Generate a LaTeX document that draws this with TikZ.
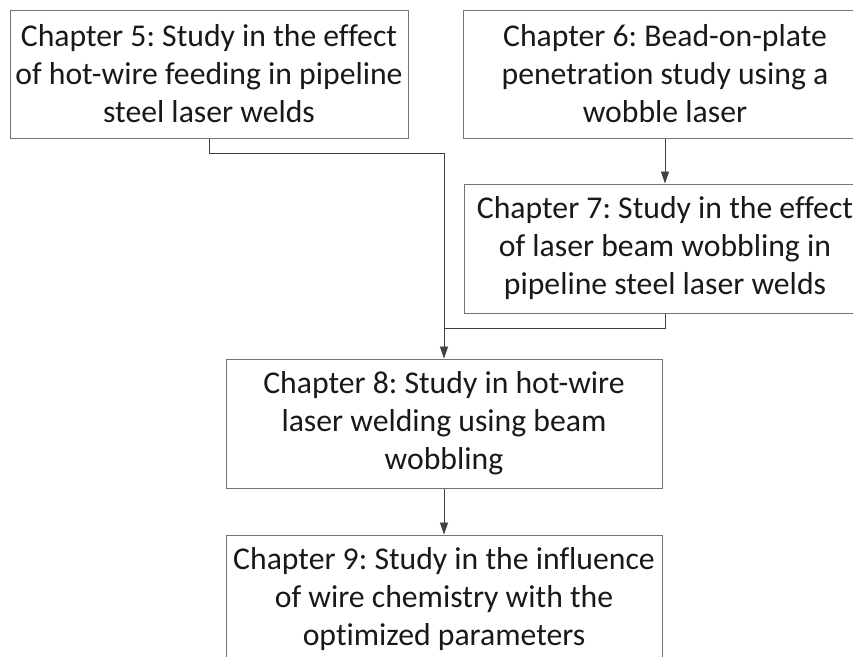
\documentclass[tikz,border=0pt]{standalone}
\usepackage{fontspec}
\setmainfont[Ligatures=NoCommon]{Carlito}
\usetikzlibrary{arrows.meta}
\frenchspacing
\begin{document}
\begin{tikzpicture}[x=1pt,y=-1pt,
  chbox/.style={draw=black!55,line width=1pt,rectangle,inner sep=0pt,
    align=center,font=\fontsize{31.7}{38}\selectfont,text=black!90},
  conn/.style={draw=black!75,line width=0.9pt},
  arr/.style={conn,-{Triangle[length=12pt,width=8pt]}}]
\useasboundingbox (0,0) rectangle (853,656);
\clip (0,0) rectangle (853,656);
\fill[white] (0,0) rectangle (853,656);
\node[chbox,minimum width=398pt,minimum height=128pt] (b1) at (209,74)
  {Chapter 5: Study in the effect\\of hot-wire feeding in pipeline\\steel laser welds};
\node[chbox,minimum width=404pt,minimum height=128pt] (b2) at (665,74)
  {Chapter 6: Bead-on-plate\\penetration study using a\\wobble laser};
\node[chbox,minimum width=402pt,minimum height=129pt] (b3) at (665,248.5)
  {Chapter 7: Study in the effect\\of laser beam wobbling in\\pipeline steel laser welds};
\node[chbox,minimum width=436pt,minimum height=129pt] (b4) at (444,423.5)
  {Chapter 8: Study in hot-wire\\laser welding using beam\\wobbling};
\node[chbox,minimum width=436pt,minimum height=129pt] (b5) at (444,599.5)
  {Chapter 9: Study in the influence\\of wire chemistry with the\\optimized parameters};
\coordinate (j) at (444,153);
\coordinate (k) at (444,328);
\draw[arr] (b1.south) |- (j) -- (b4.north);
\draw[conn] (b3.south) |- (k);
\draw[arr] (b2.south) -- (b3.north);
\draw[arr] (b4.south) -- (b5.north);
\end{tikzpicture}
\end{document}
